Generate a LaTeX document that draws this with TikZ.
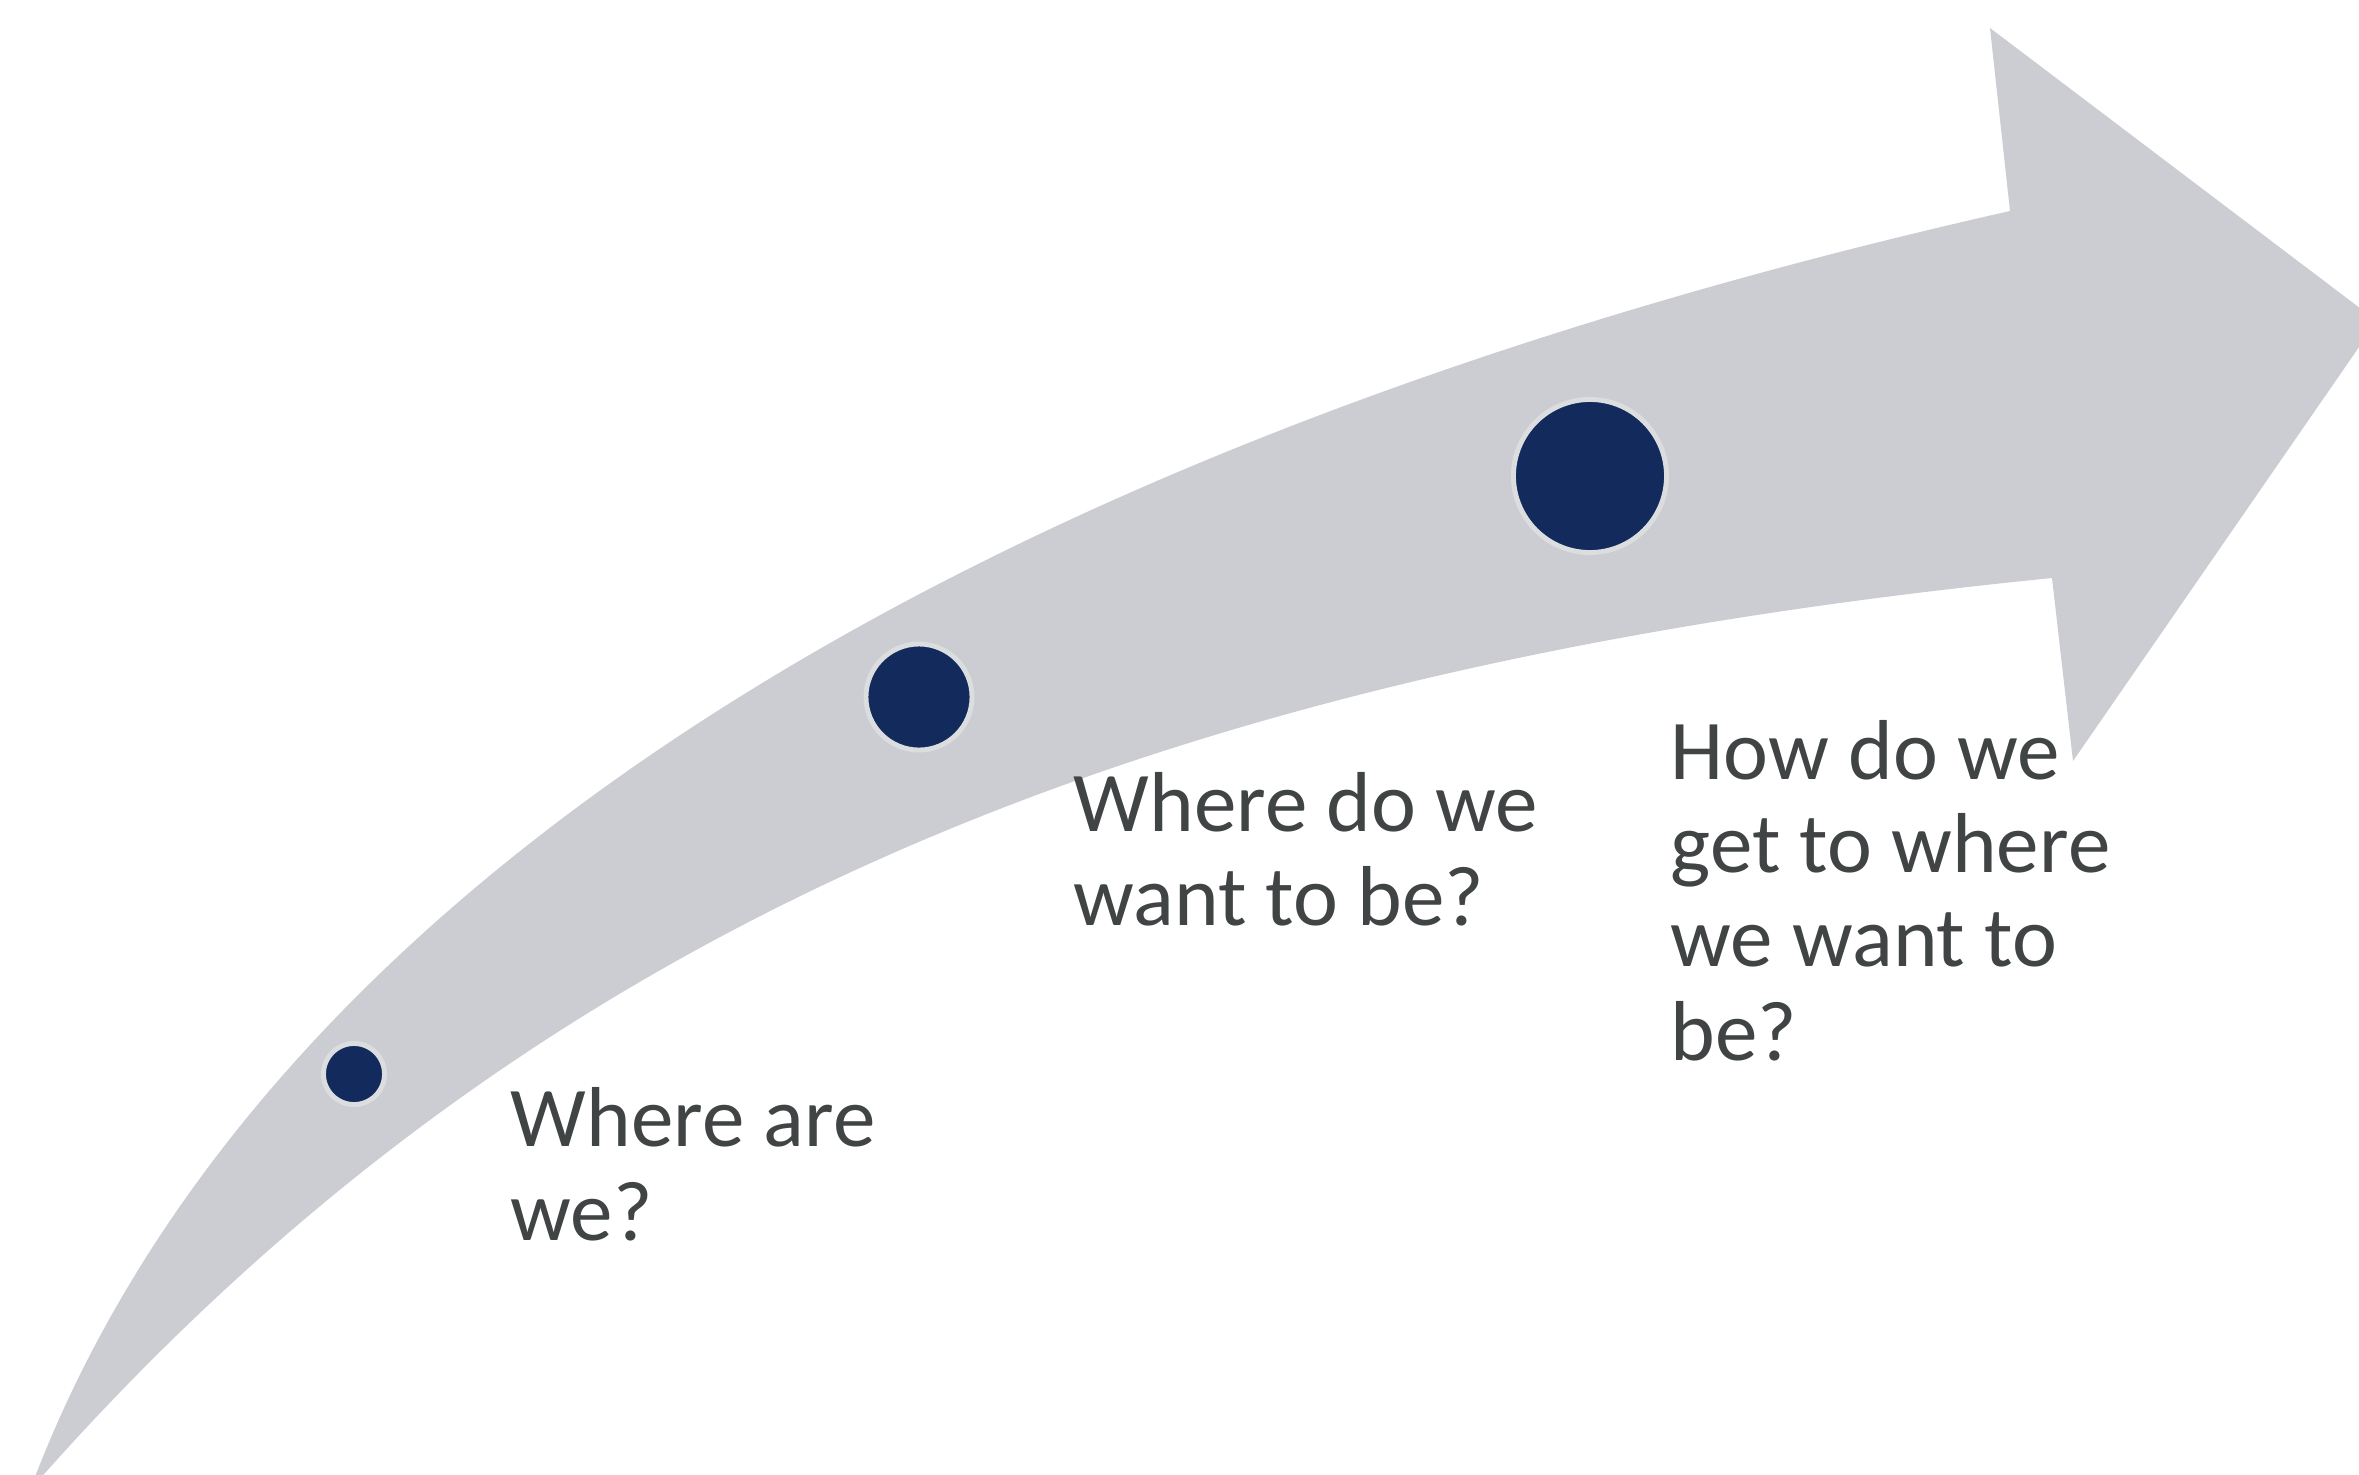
\documentclass[tikz,border=0pt]{standalone}
\usepackage{fontspec}
\setmainfont{Carlito}
\usepackage{tikz}
\usetikzlibrary{positioning}

\definecolor{bandgray}{RGB}{204,205,211}
\definecolor{dotblue}{RGB}{19,42,92}
\definecolor{ringgray}{RGB}{220,221,223}
\definecolor{textgray}{RGB}{64,68,68}

\begin{document}
\begin{tikzpicture}[x=0.01cm,y=-0.01cm,
    dot/.style={circle, fill=dotblue, draw=ringgray, line width=1.4pt, inner sep=0pt},
    question/.style={anchor=base west, inner sep=0pt, align=left, text=textgray,
      font=\fontsize{24.2}{26.6}\selectfont}]
                % Frame
                \useasboundingbox (0,0) rectangle (2359,1475);
                \clip (0,0) rectangle (2359,1475);

                % Curved arrow
                \fill[bandgray] (30,1490)
                  .. controls (250,900) and (950,450) .. (2010,211)
                  -- (1990,28) -- (2377,321) -- (2073,761) -- (2052,578)
                  .. controls (1152,668) and (530,920) .. (30,1490) -- cycle;

                % Milestones
                \node[dot, minimum size=0.61cm] (now) at (354,1074) {};
                \node[dot, minimum size=1.06cm] (goal) at (919,697) {};
                \node[dot, minimum size=1.53cm] (path) at (1590,476) {};

                % Questions (base = last line)
                \node[question] (nowtext) at (510,1240) {Where are\\we?};
                \node[question] (goaltext) at (1073,925) {Where do we\\want to be?};
                \node[question] (pathtext) at (1670,1060) {How do we\\get to where\\we want to\\be?};
            \end{tikzpicture}
\end{document}
